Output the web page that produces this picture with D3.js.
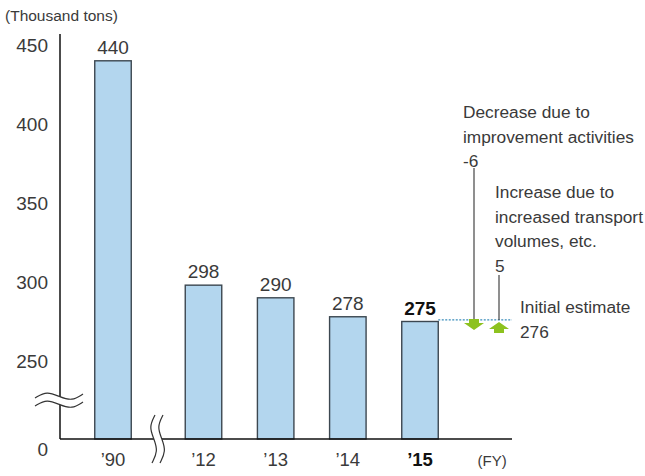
<!DOCTYPE html>
<html>
<head>
<meta charset="utf-8">
<script src="https://cdn.jsdelivr.net/npm/d3@7"></script>
<style>
  body { margin: 0; background: #fff; }
  text { font-family: "Liberation Sans", Arial, sans-serif; fill: #3a3a3a; }
</style>
</head>
<body>
<svg id="chart" width="645" height="476"></svg>
<script>
// data
const years = [1990, 2012, 2013, 2014, 2015];
const yearLabels = ["\u201990", "\u201912", "\u201913", "\u201914", "\u201915"];
const values = [440, 298, 290, 278, 275];
const ticks = [250, 300, 350, 400, 450];
const initialEstimate = 276;
const decrease = -6;
const increase = 5;

const svg = d3.select("#chart");

// y is broken: 0 sits at the baseline, the rest starts from 250
const y = d3.scaleLinear()
    .domain([0, 250, 450])
    .range([439, 361, 45]);

// x is broken between '90 and '12
const x = d3.scaleLinear()
    .domain([1990, 2012, 2015])
    .range([113, 203.5, 420]);

const barW = 36.5;
const x0 = 60;
const xEnd = 512;

svg.append("text")
    .attr("x", 5).attr("y", 21)
    .attr("font-size", 15.5)
    .text("(Thousand tons)");

// bars
svg.selectAll("rect.bar")
    .data(values)
    .enter()
    .append("rect")
    .attr("class", "bar")
    .attr("x", (d, i) => x(years[i]) - barW / 2)
    .attr("y", d => y(d))
    .attr("width", barW)
    .attr("height", d => y(0) - y(d))
    .attr("fill", "#b3d6ee")
    .attr("stroke", "#3c4750")
    .attr("stroke-width", 1.4);

svg.selectAll("text.val")
    .data(values)
    .enter()
    .append("text")
    .attr("class", "val")
    .attr("x", (d, i) => x(years[i]))
    .attr("y", d => y(d) - 7)
    .attr("text-anchor", "middle")
    .attr("font-size", 19)
    .attr("font-weight", (d, i) => i == values.length - 1 ? "bold" : null)
    .style("fill", (d, i) => i == values.length - 1 ? "#111" : null)
    .text(d => d);

// axes
svg.append("line")
    .attr("x1", x0).attr("x2", x0)
    .attr("y1", 34).attr("y2", y(0))
    .attr("stroke", "#111").attr("stroke-width", 1.5);

svg.append("line")
    .attr("x1", x0).attr("x2", xEnd)
    .attr("y1", y(0)).attr("y2", y(0))
    .attr("stroke", "#111").attr("stroke-width", 1.5);

svg.selectAll("text.tick")
    .data(ticks)
    .enter()
    .append("text")
    .attr("class", "tick")
    .attr("x", 48)
    .attr("y", d => y(d) + 7)
    .attr("text-anchor", "end")
    .attr("font-size", 19)
    .text(d => d);

svg.append("text")
    .attr("x", 48).attr("y", y(0) + 17)
    .attr("text-anchor", "end")
    .attr("font-size", 19)
    .text("0");

svg.selectAll("text.year")
    .data(yearLabels)
    .enter()
    .append("text")
    .attr("class", "year")
    .attr("x", (d, i) => x(years[i]))
    .attr("y", 466)
    .attr("text-anchor", "middle")
    .attr("font-size", 18.5)
    .attr("font-weight", (d, i) => i == yearLabels.length - 1 ? "bold" : null)
    .style("fill", (d, i) => i == yearLabels.length - 1 ? "#111" : null)
    .text(d => d);

svg.append("text")
    .attr("x", x(2016)).attr("y", 466)
    .attr("text-anchor", "middle")
    .attr("font-size", 15)
    .text("(FY)");

// break marks
const wave = d3.line().curve(d3.curveBasis);

// y axis break
let yb = 396, gap = 8;
let wy = [[35, yb + 2], [47, yb - 5], [60, yb + 1], [72, yb + 5], [83, yb - 2]];
let wy2 = wy.map(p => [p[0], p[1] + gap]);
svg.append("path")
    .attr("d", wave(wy) + "L" + wave(wy2.slice().reverse()).slice(1) + "Z")
    .attr("fill", "#fff");
[wy, wy2].forEach(pts => {
    svg.append("path")
        .attr("d", wave(pts))
        .attr("fill", "none")
        .attr("stroke", "#333")
        .attr("stroke-width", 1.2);
});

// x axis break
let xb = 153;
let wx = [[xb + 2, 415], [xb - 4, 427], [xb + 1, 439], [xb + 5, 451], [xb - 1, 463]];
let wx2 = wx.map(p => [p[0] + gap, p[1]]);
svg.append("path")
    .attr("d", wave(wx) + "L" + wave(wx2.slice().reverse()).slice(1) + "Z")
    .attr("fill", "#fff");
[wx, wx2].forEach(pts => {
    svg.append("path")
        .attr("d", wave(pts))
        .attr("fill", "none")
        .attr("stroke", "#333")
        .attr("stroke-width", 1.2);
});

// initial estimate line
const yEst = y(initialEstimate);
svg.append("line")
    .attr("x1", x(2015) + barW / 2).attr("x2", xEnd)
    .attr("y1", yEst).attr("y2", yEst)
    .attr("stroke", "#3a8dbb")
    .attr("stroke-width", 1.2)
    .attr("stroke-dasharray", "2,1.5");

// annotations
const green = "#8dc21f";
const xDown = 474, xUp = 499;

svg.append("line")
    .attr("x1", xDown).attr("x2", xDown)
    .attr("y1", 168).attr("y2", yEst)
    .attr("stroke", "#333").attr("stroke-width", 1.1);
svg.append("line")
    .attr("x1", xUp).attr("x2", xUp)
    .attr("y1", 275).attr("y2", yEst)
    .attr("stroke", "#333").attr("stroke-width", 1.1);

// down arrow
svg.append("path")
    .attr("d", `M${xDown - 5},${yEst - 1} h10 v4 h5 l-10,7 l-10,-7 h5 z`)
    .attr("fill", green);
// up arrow
svg.append("path")
    .attr("d", `M${xUp},${yEst + 2} l10,7 h-5 v4 h-10 v-4 h-5 z`)
    .attr("fill", green);

const notes = [
    { x: 463, y: 118, lines: ["Decrease due to", "improvement activities", decrease] },
    { x: 495, y: 198, lines: ["Increase due to", "increased transport", "volumes, etc.", increase] },
    { x: 520, y: 313, lines: ["Initial estimate", initialEstimate] }
];

notes.forEach(n => {
    svg.append("text")
        .attr("x", n.x).attr("y", n.y)
        .attr("font-size", 17.3)
        .selectAll("tspan")
        .data(n.lines)
        .enter()
        .append("tspan")
        .attr("x", n.x)
        .attr("dy", (d, i) => i == 0 ? 0 : 24.5)
        .text(d => d);
});
</script>
</body>
</html>
